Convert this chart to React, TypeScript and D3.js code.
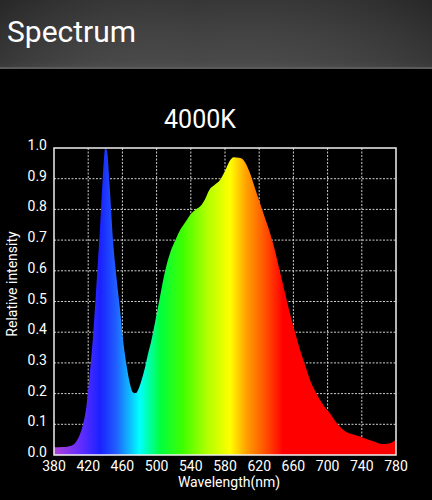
import React from "react";
import * as d3 from "d3";

const wavelengths = [380, 390, 395, 400, 405, 410, 414, 418, 422, 426, 430, 434, 437, 440, 442, 445, 449, 453, 457, 461, 465, 469, 472, 475, 478, 482, 486, 490, 494, 498, 504, 510, 516, 522, 528, 534, 540, 546, 551, 556, 562, 568, 574, 580, 586, 590, 596, 600, 603, 606, 609, 615, 621, 627, 633, 639, 644, 650, 656, 662, 668, 674, 680, 686, 691, 697, 703, 709, 715, 720, 726, 732, 738, 744, 750, 756, 761, 767, 773, 776, 780];
const intensity = [0.025, 0.026, 0.027, 0.03, 0.04, 0.065, 0.1, 0.16, 0.27, 0.4, 0.57, 0.75, 0.9, 1.0, 0.99, 0.88, 0.7, 0.58, 0.48, 0.37, 0.29, 0.23, 0.205, 0.2, 0.21, 0.24, 0.28, 0.33, 0.375, 0.43, 0.516, 0.6, 0.66, 0.7, 0.735, 0.76, 0.785, 0.8, 0.81, 0.83, 0.865, 0.88, 0.895, 0.925, 0.96, 0.97, 0.968, 0.965, 0.955, 0.94, 0.92, 0.87, 0.82, 0.77, 0.72, 0.66, 0.6, 0.53, 0.46, 0.4, 0.34, 0.29, 0.24, 0.205, 0.18, 0.155, 0.135, 0.11, 0.09, 0.078, 0.07, 0.065, 0.06, 0.054, 0.048, 0.042, 0.037, 0.036, 0.038, 0.042, 0.05];

const xTicks = [380, 420, 460, 500, 540, 580, 620, 660, 700, 740, 780];
const yTicks = [0, 0.1, 0.2, 0.3, 0.4, 0.5, 0.6, 0.7, 0.8, 0.9, 1.0];

const colorStopNm = [380, 414, 434, 453, 480, 504, 531, 559, 586, 605, 629, 648, 780];
const colorStopColor = ["#b040d8", "#5a2cff", "#1a22ff", "#2060ff", "#00ffff", "#00ff40", "#40ff00", "#b0ff00", "#ffff00", "#ffa000", "#ff4a00", "#ff0000", "#ff0000"];

const W = 432;
const H = 500;
const left = 54, right = 396, top = 148, bottom = 455;
const font = "Roboto, 'Liberation Sans', sans-serif";

export default function App() {
  const x = d3.scaleLinear().domain([380, 780]).range([left, right]);
  const y = d3.scaleLinear().domain([0, 1]).range([bottom, top]);
  const pts = wavelengths.map((w, i) => [w, intensity[i]] as [number, number]);
  const area = d3
    .area<[number, number]>()
    .x((d) => x(d[0]))
    .y0(y(0))
    .y1((d) => y(d[1]))
    .curve(d3.curveMonotoneX);

  return (
    <svg width={W} height={H} style={{ position: "absolute", left: 0, top: 0, background: "#000" }}>
      <defs>
        <linearGradient id="hdr" x1="0" y1="0" x2="0" y2="1">
          <stop offset="0" stopColor="#2e2e2e" />
          <stop offset="0.5" stopColor="#3a3a3a" />
          <stop offset="0.9" stopColor="#414141" />
          <stop offset="1" stopColor="#4a4a4a" />
        </linearGradient>
        <linearGradient id="hdrH" x1="0" y1="0" x2="1" y2="0">
          <stop offset="0" stopColor="#000" stopOpacity="0.15" />
          <stop offset="0.45" stopColor="#fff" stopOpacity="0.04" />
          <stop offset="1" stopColor="#000" stopOpacity="0.15" />
        </linearGradient>
        <linearGradient id="spec" gradientUnits="userSpaceOnUse" x1={x(380)} y1="0" x2={x(780)} y2="0">
          {colorStopNm.map((nm, i) => (
            <stop key={i} offset={(nm - 380) / 400} stopColor={colorStopColor[i]} />
          ))}
        </linearGradient>
      </defs>
      <rect x={0} y={0} width={W} height={H} fill="#000" />
      <rect x={0} y={0} width={W} height={69} fill="url(#hdr)" />
      <rect x={0} y={0} width={W} height={69} fill="url(#hdrH)" />
      <rect x={0} y={67} width={W} height={2} fill="#5a5a5a" />
      <text x={7} y={42} fill="#fff" fontSize={30} fontFamily={font}>Spectrum</text>
      <text x={200} y={128} fill="#fff" fontSize={25} fontFamily={font} textAnchor="middle">4000K</text>

      {xTicks.slice(1, -1).map((t) => (
        <line key={"gx" + t} x1={x(t)} x2={x(t)} y1={top} y2={bottom} stroke="#d0d0d0" strokeWidth={1} strokeDasharray="2,1.5" />
      ))}
      {yTicks.slice(1, -1).map((t) => (
        <line key={"gy" + t} x1={left} x2={right} y1={y(t)} y2={y(t)} stroke="#d0d0d0" strokeWidth={1} strokeDasharray="2,1.5" />
      ))}

      <path d={area(pts) || ""} fill="url(#spec)" />

      <rect x={left} y={top} width={right - left} height={bottom - top} fill="none" stroke="#f0f0f0" strokeWidth={1.5} />

      {xTicks.map((t) => (
        <text key={"xt" + t} x={x(t)} y={471} fill="#fff" fontSize={14} fontFamily={font} textAnchor="middle">{t}</text>
      ))}
      {yTicks.map((t) => (
        <text key={"yt" + t} x={47} y={y(t) + 2} fill="#fff" fontSize={14} fontFamily={font} textAnchor="end">{t.toFixed(1)}</text>
      ))}
      <text x={229} y={487} fill="#fff" fontSize={14} fontFamily={font} textAnchor="middle">Wavelength(nm)</text>
      <text transform={`translate(17,284) rotate(-90)`} fill="#fff" fontSize={14} fontFamily={font} textAnchor="middle">Relative intensity</text>
    </svg>
  );
}
